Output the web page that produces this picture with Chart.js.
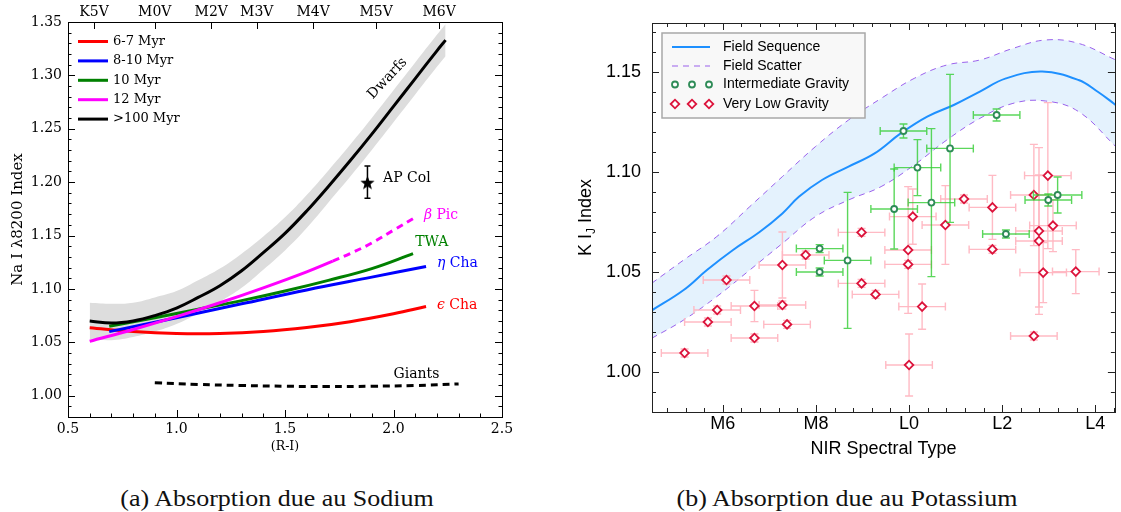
<!DOCTYPE html>
<html>
<head>
<meta charset="utf-8">
<title>Na I and K I gravity indices</title>
<script src="https://cdn.jsdelivr.net/npm/chart.js@4.4.1/dist/chart.umd.min.js"></script>
<style>
  html, body { margin: 0; padding: 0; background: #fff; }
  body { width: 1121px; height: 512px; position: relative; overflow: hidden; }
  .panel { position: absolute; top: 0; height: 460px; }
  #naPanel { left: 0; width: 560px; }
  #kPanel { left: 560px; width: 561px; }
  .caption {
    position: absolute; top: 485px; width: 400px;
    font-family: "Liberation Serif", "DejaVu Serif", serif; font-size: 23px; line-height: 28px;
    color: #111; text-align: center; white-space: nowrap; transform: scaleX(1.13);
  }
</style>
</head>
<body>
<div class="panel" id="naPanel"><canvas id="naChart"></canvas></div>
<div class="panel" id="kPanel"><canvas id="kChart"></canvas></div>
<div class="caption" style="left:77px">(a) Absorption due au Sodium</div>
<div class="caption" style="left:647px">(b) Absorption due au Potassium</div>

<script>
// ---------- (a) Na I 8200 index against (R-I) ----------
const dwarfRI = [0.6, 0.7, 0.8, 0.9, 1.0, 1.1, 1.2, 1.3, 1.4, 1.5, 1.6, 1.7, 1.8, 1.9, 2.0, 2.1, 2.2, 2.24];
const dwarfNa = [1.070, 1.068, 1.070, 1.075, 1.082, 1.092, 1.103, 1.117, 1.134, 1.152, 1.173, 1.196, 1.220, 1.245, 1.271, 1.297, 1.323, 1.333];
const dwarfHi = [1.087, 1.086, 1.087, 1.092, 1.098, 1.108, 1.119, 1.133, 1.149, 1.167, 1.188, 1.211, 1.235, 1.260, 1.286, 1.312, 1.338, 1.348];
const dwarfLo = [1.053, 1.052, 1.055, 1.060, 1.067, 1.077, 1.088, 1.101, 1.118, 1.136, 1.157, 1.181, 1.205, 1.230, 1.256, 1.282, 1.308, 1.318];

const epsRI = [0.6, 0.8, 1.0, 1.2, 1.4, 1.6, 1.8, 2.0, 2.15];
const epsNa = [1.0635, 1.060, 1.0582, 1.0582, 1.060, 1.0638, 1.0693, 1.0767, 1.0835];
const etaRI = [0.69, 1.0, 1.3, 1.6, 1.9, 2.15];
const etaNa = [1.060, 1.073, 1.086, 1.099, 1.111, 1.121];
const twaRI = [0.69, 0.9, 1.1, 1.3, 1.5, 1.7, 1.9, 2.09];
const twaNa = [1.065, 1.073, 1.081, 1.089, 1.098, 1.108, 1.119, 1.133];
const picRI = [0.6, 0.8, 1.0, 1.2, 1.4, 1.6, 1.72];
const picNa = [1.051, 1.062, 1.074, 1.087, 1.101, 1.116, 1.126];
const picExtRI = [1.72, 1.8, 1.9, 2.0, 2.1];
const picExtNa = [1.126, 1.133, 1.143, 1.155, 1.167];
const giantRI = [0.9, 1.1, 1.3, 1.5, 1.7, 1.9, 2.1, 2.3];
const giantNa = [1.012, 1.0105, 1.0095, 1.0088, 1.0085, 1.0088, 1.0095, 1.011];

const apColRI = [1.88];
const apColNa = [1.200];
const apColErr = [0.015];

const naXTicks = [0.5, 1.0, 1.5, 2.0, 2.5];
const naYTicks = [1.00, 1.05, 1.10, 1.15, 1.20, 1.25, 1.30, 1.35];
const specTypes = ['K5V', 'M0V', 'M2V', 'M3V', 'M4V', 'M5V', 'M6V'];
const specRI = [0.62, 0.90, 1.16, 1.37, 1.63, 1.92, 2.21];

const ageLabels = ['6-7 Myr', '8-10 Myr', '10 Myr', '12 Myr', '>100 Myr'];
const ageColors = ['#ff0000', '#0000ff', '#008000', '#ff00ff', '#000000'];

// ---------- (b) K I J-band index against NIR spectral type ----------
const fieldSpT = [4.47, 5.16, 5.66, 6.22, 6.79, 7.28, 7.64, 8.13, 8.70, 9.26, 9.82, 10.39, 10.96, 11.52, 12.08, 12.86, 13.64, 14.06, 14.44];
const fieldKI = [1.0307, 1.041, 1.051, 1.061, 1.070, 1.0793, 1.0877, 1.096, 1.1027, 1.1093, 1.1193, 1.1277, 1.1335, 1.1402, 1.1468, 1.1502, 1.146, 1.140, 1.1335];
const scatterSpT = [4.47, 5.16, 5.87, 6.58, 7.28, 7.99, 8.70, 9.40, 10.11, 10.81, 11.52, 12.23, 12.93, 13.64, 14.44];
const scatterHi = [1.0443, 1.056, 1.0677, 1.0827, 1.0977, 1.1127, 1.126, 1.1368, 1.1468, 1.1535, 1.156, 1.1618, 1.166, 1.1643, 1.156];
const scatterLo = [1.0168, 1.026, 1.0377, 1.051, 1.0643, 1.0777, 1.086, 1.0927, 1.1035, 1.116, 1.1268, 1.1343, 1.1355, 1.1302, 1.1127];

const intSpT = [8.08, 8.08, 8.68, 9.68, 9.88, 10.18, 10.48, 10.88, 11.88, 12.08, 12.99, 13.19];
const intKI = [1.0617, 1.050, 1.0558, 1.0815, 1.1205, 1.1022, 1.0847, 1.1118, 1.1285, 1.069, 1.086, 1.0885];
const intSpTErr = [0.5, 0.5, 0.5, 0.5, 0.5, 0.5, 0.5, 0.5, 0.5, 0.5, 0.5, 0.52];
const intKIErr = [0.002, 0.002, 0.034, 0.020, 0.0035, 0.014, 0.037, 0.037, 0.003, 0.002, 0.003, 0.009];

const vlgSpT = [5.18, 5.68, 5.88, 6.08, 6.68, 6.68, 7.28, 7.28, 7.38, 7.78, 8.98, 8.98, 9.28, 10.08, 9.98,
                9.98, 10.28, 10.0, 10.78, 11.18, 11.79, 11.79, 12.98, 12.68, 12.79, 12.79, 13.09, 12.88, 13.58, 12.68];
const vlgKI = [1.0095, 1.025, 1.031, 1.046, 1.033, 1.017, 1.0535, 1.0335, 1.0238, 1.0585, 1.0698, 1.0443, 1.0388, 1.0777, 1.061,
               1.0538, 1.0327, 1.0035, 1.0735, 1.0865, 1.0823, 1.0613, 1.0982, 1.0885, 1.0705, 1.0655, 1.0732, 1.0497, 1.0502, 1.018];
const vlgSpTErr = [0.5, 0.5, 0.5, 0.5, 0.5, 0.5, 0.5, 0.5, 0.5, 0.5, 0.5, 0.5, 0.5, 0.5, 0.5,
                   0.5, 0.5, 0.5, 0.5, 0.5, 0.5, 0.5, 0.5, 0.5, 0.5, 0.5, 0.5, 0.5, 0.5, 0.5];
const vlgKIErr = [0.002, 0.002, 0.002, 0.002, 0.0078, 0.002, 0.0165, 0.002, 0.002, 0.002, 0.002, 0.002, 0.002, 0.0138, 0.0317,
                  0.002, 0.0113, 0.0155, 0.0197, 0.002, 0.016, 0.002, 0.0365, 0.0253, 0.0417, 0.033, 0.013, 0.015, 0.011, 0.002];

const kYTicks = [1.00, 1.05, 1.10, 1.15];
const nirTicks = [6, 8, 10, 12, 14];
const nirLabels = ['M6', 'M8', 'L0', 'L2', 'L4'];
const kLegendLabels = ['Field Sequence', 'Field Scatter', 'Intermediate Gravity', 'Very Low Gravity'];

// ---------- helpers ----------
Chart.defaults.color = '#000';

function pts(xs, ys) {
  return xs.map((x, i) => ({ x: x, y: ys[i] }));
}

function fixedTicks(list) {
  return function (scale) { scale.ticks = list.map(v => ({ value: v })); };
}

// filled five-pointed star used for the AP Col marker
function starImage(size, color) {
  const c = document.createElement('canvas');
  c.width = size; c.height = size;
  const g = c.getContext('2d');
  g.fillStyle = color;
  g.beginPath();
  for (let k = 0; k < 10; k++) {
    const r = k % 2 ? size * 0.21 : size * 0.5;
    const a = -Math.PI / 2 + k * Math.PI / 5;
    g.lineTo(size / 2 + r * Math.cos(a), size / 2 + 1 + r * Math.sin(a));
  }
  g.closePath();
  g.fill();
  return c;
}

// short tick marks pointing into the plot from one side of the frame
function inTicks(ctx, area, scale, values, len, side) {
  ctx.beginPath();
  values.forEach(v => {
    const p = Math.round(scale.getPixelForValue(v)) + 0.5;
    if (side === 'bottom') { ctx.moveTo(p, area.bottom); ctx.lineTo(p, area.bottom - len); }
    if (side === 'top') { ctx.moveTo(p, area.top); ctx.lineTo(p, area.top + len); }
    if (side === 'left') { ctx.moveTo(area.left, p); ctx.lineTo(area.left + len, p); }
    if (side === 'right') { ctx.moveTo(area.right, p); ctx.lineTo(area.right - len, p); }
  });
  ctx.stroke();
}

function frame(ctx, area) {
  ctx.strokeRect(Math.round(area.left) + 0.5, Math.round(area.top) + 0.5,
                 Math.round(area.right - area.left), Math.round(area.bottom - area.top));
}

// text with a leading italic Greek letter, e.g. "β Pic"
function greekLabel(ctx, greek, rest, x, y, color) {
  ctx.fillStyle = color;
  ctx.font = 'italic 14px "DejaVu Serif"';
  ctx.fillText(greek, x, y);
  const w = ctx.measureText(greek).width;
  ctx.font = '14px "DejaVu Serif"';
  ctx.fillText(rest, x + w, y);
}

// ---------- panel (a) ----------
const serif = '"DejaVu Serif", serif';

const naDecor = {
  id: 'naDecor',
  beforeDatasetsDraw(chart) {
    const { ctx, scales: { x, y } } = chart;
    ctx.save();
    ctx.strokeStyle = '#000';
    ctx.lineWidth = 1.5;
    apColRI.forEach((ri, i) => {
      const px = x.getPixelForValue(ri);
      const yTop = y.getPixelForValue(apColNa[i] + apColErr[i]);
      const yBot = y.getPixelForValue(apColNa[i] - apColErr[i]);
      ctx.beginPath();
      ctx.moveTo(px, yTop); ctx.lineTo(px, yBot);
      ctx.moveTo(px - 3, yTop); ctx.lineTo(px + 3, yTop);
      ctx.moveTo(px - 3, yBot); ctx.lineTo(px + 3, yBot);
      ctx.stroke();
    });
    ctx.restore();
  },
  afterDatasetsDraw(chart) {
    const { ctx, chartArea: area, scales: { x, y } } = chart;
    ctx.save();
    ctx.strokeStyle = '#000';
    ctx.lineWidth = 1;
    frame(ctx, area);

    const minorX = [], minorY = [];
    for (let k = 0; k <= 20; k++) minorX.push(0.5 + k * 0.1);
    for (let k = 0; k <= 37; k++) minorY.push(0.98 + k * 0.01);
    inTicks(ctx, area, x, minorX, 3.5, 'bottom');
    inTicks(ctx, area, x, naXTicks, 7, 'bottom');
    inTicks(ctx, area, x, specRI, 7, 'top');
    ['left', 'right'].forEach(side => {
      inTicks(ctx, area, y, minorY, 3.5, side);
      inTicks(ctx, area, y, naYTicks, 7, side);
    });

    // age legend, upper left
    ctx.textBaseline = 'middle';
    ctx.textAlign = 'left';
    ctx.lineWidth = 3;
    ageLabels.forEach((label, i) => {
      const ly = area.top + 19.5 + i * 19.4;
      ctx.strokeStyle = ageColors[i];
      ctx.beginPath();
      ctx.moveTo(area.left + 10, ly); ctx.lineTo(area.left + 40, ly);
      ctx.stroke();
      ctx.fillStyle = '#000';
      ctx.font = '13px ' + serif;
      ctx.fillText(label, area.left + 45, ly);
    });

    // curve annotations
    ctx.font = '14px ' + serif;
    ctx.fillStyle = '#000';
    ctx.fillText('AP Col', x.getPixelForValue(1.952), y.getPixelForValue(1.204));
    ctx.fillText('Giants', x.getPixelForValue(2.0), y.getPixelForValue(1.0195));
    ctx.fillStyle = '#008000';
    ctx.fillText('TWA', x.getPixelForValue(2.10), y.getPixelForValue(1.144));
    greekLabel(ctx, 'β', ' Pic', x.getPixelForValue(2.14), y.getPixelForValue(1.169), '#ff00ff');
    greekLabel(ctx, 'η', ' Cha', x.getPixelForValue(2.20), y.getPixelForValue(1.124), '#0000ff');
    greekLabel(ctx, 'ϵ', ' Cha', x.getPixelForValue(2.20), y.getPixelForValue(1.085), '#ff0000');

    ctx.save();
    ctx.translate(x.getPixelForValue(1.972), y.getPixelForValue(1.297));
    ctx.rotate(-47 * Math.PI / 180);
    ctx.textAlign = 'center';
    ctx.fillStyle = '#000';
    ctx.font = '14px ' + serif;
    ctx.fillText('Dwarfs', 0, 0);
    ctx.restore();

    ctx.restore();
  }
};

function curve(data, color, extra) {
  return Object.assign({
    data: data, borderColor: color, borderWidth: 3, pointRadius: 0,
    fill: false, tension: 0.4
  }, extra || {});
}

new Chart(document.getElementById('naChart'), {
  type: 'line',
  data: {
    datasets: [
      curve(pts(dwarfRI, dwarfHi), 'rgba(0,0,0,0)', { fill: '+1', backgroundColor: '#dddddd', borderWidth: 0, order: 20 }),
      curve(pts(dwarfRI, dwarfLo), 'rgba(0,0,0,0)', { borderWidth: 0, order: 21 }),
      curve(pts(giantRI, giantNa), '#000', { borderDash: [7, 5], order: 8 }),
      curve(pts(epsRI, epsNa), ageColors[0], { order: 7 }),
      curve(pts(etaRI, etaNa), ageColors[1], { order: 6 }),
      curve(pts(twaRI, twaNa), ageColors[2], { order: 5 }),
      curve(pts(dwarfRI, dwarfNa), ageColors[4], { order: 4 }),
      curve(pts(picRI, picNa), ageColors[3], { order: 3 }),
      curve(pts(picExtRI, picExtNa), ageColors[3], { borderDash: [7, 5], order: 3 }),
      {
        data: pts(apColRI, apColNa), showLine: false, order: 1,
        pointStyle: starImage(15, '#000'), pointRadius: 7
      }
    ]
  },
  options: {
    responsive: true,
    maintainAspectRatio: false,
    animation: false,
    events: [],
    layout: { padding: { right: 58 } },
    plugins: { legend: { display: false }, tooltip: { enabled: false } },
    scales: {
      x: {
        type: 'linear', position: 'bottom', min: 0.5, max: 2.5,
        afterBuildTicks: fixedTicks(naXTicks),
        afterFit(s) { s.height = 43; },
        grid: { display: false, drawTicks: false },
        border: { display: false },
        ticks: { autoSkip: false, maxRotation: 0, padding: 4, font: { family: serif, size: 14 },
                 callback: v => v.toFixed(1) },
        title: { display: true, text: '(R-I)', font: { family: serif, size: 12.5 }, padding: { top: 0, bottom: 6 } }
      },
      top: {
        type: 'linear', position: 'top', min: 0.5, max: 2.5,
        afterBuildTicks: fixedTicks(specRI),
        afterFit(s) { s.height = 22; },
        grid: { display: false, drawTicks: false },
        border: { display: false },
        ticks: { autoSkip: false, maxRotation: 0, padding: 1, font: { family: serif, size: 14 },
                 callback: (v, i) => specTypes[i] }
      },
      y: {
        type: 'linear', position: 'left', min: 0.98, max: 1.35,
        afterBuildTicks: fixedTicks(naYTicks),
        afterFit(s) { s.width = 68; },
        grid: { display: false, drawTicks: false },
        border: { display: false },
        ticks: { padding: 6, font: { family: serif, size: 14 }, callback: v => v.toFixed(2) },
        title: { display: true, text: 'Na I λ8200 Index', font: { family: serif, size: 15 }, padding: { top: 9, bottom: 0 } }
      }
    }
  },
  plugins: [naDecor]
});

// ---------- panel (b) ----------
const sans = '"Liberation Sans", Arial, sans-serif';
const intColor = '#2e8b57', intErrColor = 'rgba(50,205,50,0.8)';
const vlgColor = '#dc143c', vlgErrColor = 'rgba(255,182,193,0.95)';
const scatterColor = 'rgba(150,90,235,0.95)';

function drawCircle(ctx, cx, cy) {
  ctx.beginPath();
  ctx.arc(cx, cy, 3, 0, Math.PI * 2);
  ctx.fillStyle = '#fff'; ctx.fill();
  ctx.strokeStyle = intColor; ctx.lineWidth = 1.8; ctx.stroke();
}

function drawDiamond(ctx, cx, cy) {
  ctx.beginPath();
  ctx.moveTo(cx - 4.3, cy); ctx.lineTo(cx, cy - 4.3); ctx.lineTo(cx + 4.3, cy); ctx.lineTo(cx, cy + 4.3);
  ctx.closePath();
  ctx.fillStyle = '#fff'; ctx.fill();
  ctx.strokeStyle = vlgColor; ctx.lineWidth = 1.8; ctx.stroke();
}

const kDecor = {
  id: 'kDecor',
  // error bars go down just before the markers of their own dataset
  beforeDatasetDraw(chart, args) {
    const ds = chart.data.datasets[args.index];
    if (!ds.errY) return;
    const { ctx, chartArea: area, scales: { x, y } } = chart;
    ctx.save();
    ctx.beginPath();
    ctx.rect(area.left, area.top, area.right - area.left, area.bottom - area.top);
    ctx.clip();
    ctx.strokeStyle = ds.errColor;
    ctx.lineWidth = 1.4;
    ds.data.forEach((p, i) => {
      const cx = x.getPixelForValue(p.x), cy = y.getPixelForValue(p.y);
      const xl = x.getPixelForValue(p.x - ds.errX[i]), xr = x.getPixelForValue(p.x + ds.errX[i]);
      const yt = y.getPixelForValue(p.y + ds.errY[i]), yb = y.getPixelForValue(p.y - ds.errY[i]);
      ctx.beginPath();
      ctx.moveTo(xl, cy); ctx.lineTo(xr, cy);
      ctx.moveTo(xl, cy - 4); ctx.lineTo(xl, cy + 4);
      ctx.moveTo(xr, cy - 4); ctx.lineTo(xr, cy + 4);
      ctx.moveTo(cx, yt); ctx.lineTo(cx, yb);
      ctx.moveTo(cx - 4, yt); ctx.lineTo(cx + 4, yt);
      ctx.moveTo(cx - 4, yb); ctx.lineTo(cx + 4, yb);
      ctx.stroke();
    });
    ctx.restore();
  },
  afterDatasetsDraw(chart) {
    const { ctx, chartArea: area, scales: { x, y } } = chart;
    ctx.save();
    ctx.strokeStyle = '#222';
    ctx.lineWidth = 1;
    frame(ctx, area);

    const minorX = [], minorY = [];
    for (let k = -4; k <= 21; k++) minorX.push(6 + k * 0.4);
    for (let k = 0; k <= 19; k++) minorY.push(0.98 + k * 0.01);
    ['bottom', 'top'].forEach(side => {
      inTicks(ctx, area, x, minorX.filter(v => v > x.min && v < x.max), 4, side);
      inTicks(ctx, area, x, nirTicks, 7, side);
    });
    ['left', 'right'].forEach(side => {
      inTicks(ctx, area, y, minorY, 4, side);
      inTicks(ctx, area, y, kYTicks, 7, side);
    });

    // legend box, upper left
    const bx = area.left + 10, by = area.top + 10;
    ctx.fillStyle = '#f8f8f8';
    ctx.fillRect(bx, by, 203, 85);
    ctx.strokeStyle = '#a8a8a8';
    ctx.lineWidth = 1.5;
    ctx.strokeRect(bx, by, 203, 85);

    const rowY = [by + 14, by + 33, by + 51.5, by + 71];
    ctx.lineWidth = 2;
    ctx.strokeStyle = '#1e90ff';
    ctx.beginPath(); ctx.moveTo(bx + 10, rowY[0]); ctx.lineTo(bx + 48, rowY[0]); ctx.stroke();
    ctx.lineWidth = 1;
    ctx.strokeStyle = scatterColor;
    ctx.setLineDash([6, 5]);
    ctx.beginPath(); ctx.moveTo(bx + 10, rowY[1]); ctx.lineTo(bx + 48, rowY[1]); ctx.stroke();
    ctx.setLineDash([]);
    [13, 30, 47].forEach(dx => drawCircle(ctx, bx + dx, rowY[2]));
    [13, 30, 47].forEach(dx => drawDiamond(ctx, bx + dx, rowY[3]));

    ctx.fillStyle = '#000';
    ctx.font = '14px ' + sans;
    ctx.textAlign = 'left';
    ctx.textBaseline = 'middle';
    kLegendLabels.forEach((label, i) => ctx.fillText(label, bx + 61, rowY[i]));

    // y title "K I_J Index" with a subscript J
    ctx.save();
    ctx.translate(25, (area.top + area.bottom) / 2);
    ctx.rotate(-Math.PI / 2);
    ctx.textBaseline = 'alphabetic';
    const a = 'K I', b = ' Index';
    ctx.font = '18px ' + sans;
    const wa = ctx.measureText(a).width, wb = ctx.measureText(b).width;
    ctx.font = '12px ' + sans;
    const wj = ctx.measureText('J').width;
    const tx = -(wa + wj + wb) / 2;
    ctx.font = '18px ' + sans;
    ctx.fillText(a, tx, 6);
    ctx.font = '12px ' + sans;
    ctx.fillText('J', tx + wa, 10);
    ctx.font = '18px ' + sans;
    ctx.fillText(b, tx + wa + wj, 6);
    ctx.restore();

    ctx.restore();
  }
};

new Chart(document.getElementById('kChart'), {
  type: 'line',
  data: {
    datasets: [
      {
        data: pts(scatterSpT, scatterHi), borderColor: scatterColor, borderWidth: 1, borderDash: [6, 5],
        pointRadius: 0, fill: '+1', backgroundColor: '#e4f2fd', tension: 0.4, order: 20
      },
      {
        data: pts(scatterSpT, scatterLo), borderColor: scatterColor, borderWidth: 1, borderDash: [6, 5],
        pointRadius: 0, fill: false, tension: 0.4, order: 19
      },
      {
        data: pts(fieldSpT, fieldKI), borderColor: '#1e90ff', borderWidth: 2,
        pointRadius: 0, fill: false, tension: 0.4, order: 10
      },
      {
        data: pts(vlgSpT, vlgKI), showLine: false, order: 3,
        pointStyle: 'rectRot', pointRadius: 4.3, pointBorderWidth: 1.8,
        pointBorderColor: vlgColor, pointBackgroundColor: '#fff',
        errX: vlgSpTErr, errY: vlgKIErr, errColor: vlgErrColor
      },
      {
        data: pts(intSpT, intKI), showLine: false, order: 2,
        pointStyle: 'circle', pointRadius: 3, pointBorderWidth: 1.8,
        pointBorderColor: intColor, pointBackgroundColor: '#fff',
        errX: intSpTErr, errY: intKIErr, errColor: intErrColor
      }
    ]
  },
  options: {
    responsive: true,
    maintainAspectRatio: false,
    animation: false,
    events: [],
    layout: { padding: { top: 23, right: 2 } },
    plugins: { legend: { display: false }, tooltip: { enabled: false } },
    scales: {
      x: {
        type: 'linear', position: 'bottom', min: 4.48, max: 14.42,
        afterBuildTicks: fixedTicks(nirTicks),
        afterFit(s) { s.height = 48; },
        grid: { display: false, drawTicks: false },
        border: { display: false },
        ticks: { autoSkip: false, maxRotation: 0, padding: 1, font: { family: sans, size: 18 },
                 callback: (v, i) => nirLabels[i] },
        title: { display: true, text: 'NIR Spectral Type', font: { family: sans, size: 18 }, padding: { top: 0, bottom: 0 } }
      },
      y: {
        type: 'linear', position: 'left', min: 0.98, max: 1.1745,
        afterBuildTicks: fixedTicks(kYTicks),
        afterFit(s) { s.width = 92; },
        grid: { display: false, drawTicks: false },
        border: { display: false },
        ticks: { padding: 11, font: { family: sans, size: 18 }, callback: v => v.toFixed(2) }
      }
    }
  },
  plugins: [kDecor]
});
</script>
</body>
</html>
